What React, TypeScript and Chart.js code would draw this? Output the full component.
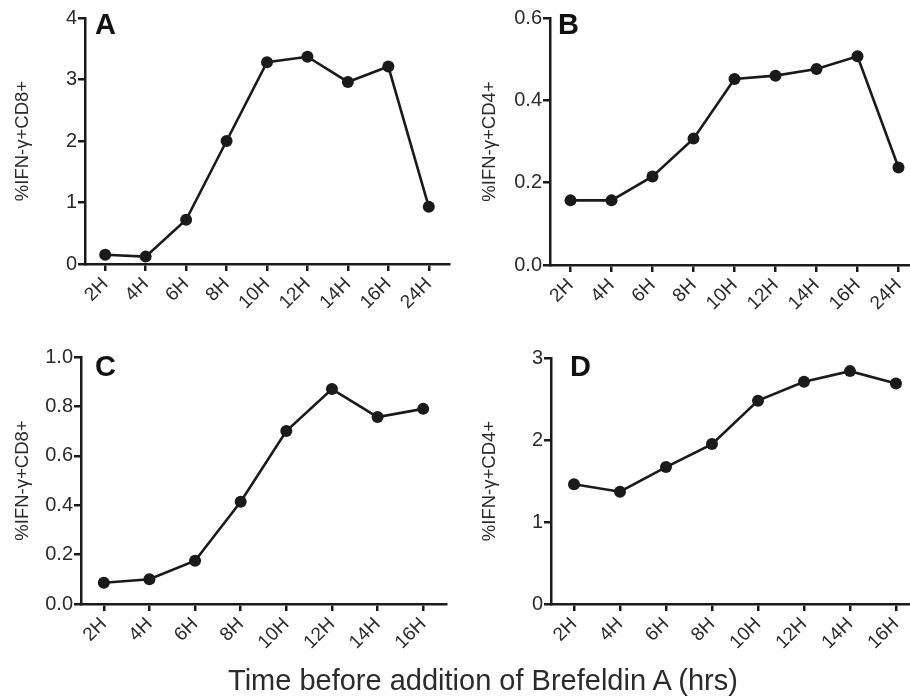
import React, { useEffect, useRef } from "react";
import { Chart, registerables } from "chart.js";

Chart.register(...registerables);

const labelsAB = ["2H", "4H", "6H", "8H", "10H", "12H", "14H", "16H", "24H"];
const labelsCD = ["2H", "4H", "6H", "8H", "10H", "12H", "14H", "16H"];
const valuesA = [0.15, 0.12, 0.72, 2.0, 3.28, 3.37, 2.96, 3.21, 0.93];
const valuesB = [0.157, 0.157, 0.215, 0.307, 0.452, 0.46, 0.476, 0.507, 0.237];
const valuesC = [0.086, 0.1, 0.175, 0.414, 0.7, 0.87, 0.757, 0.79];
const valuesD = [1.46, 1.37, 1.67, 1.95, 2.48, 2.71, 2.84, 2.69];
const yTitleCD8 = "%IFN-γ+CD8+";
const yTitleCD4 = "%IFN-γ+CD4+";
const xTitle = "Time before addition of Brefeldin A (hrs)";
const panelLetters = ["A", "B", "C", "D"];

const FONT = "'Liberation Sans', Arial, Helvetica, sans-serif";
const INK = "#1a1a1a";
const TEXT = "#2b2b2b";

type PanelProps = {
  labels: string[];
  values: number[];
  yMax: number;
  yStep: number;
  decimals: number;
  yTitle: string;
  left: number;
  top: number;
  width: number;
  height: number;
  padTop: number;
  padRight: number;
  yWidth: number;
  xHeight: number;
  titlePad: number;
};

function Panel(p: PanelProps) {
  const ref = useRef<HTMLCanvasElement | null>(null);
  useEffect(() => {
    if (!ref.current) return;
    const gridCfg = {
      display: true,
      drawOnChartArea: false,
      drawTicks: true,
      tickLength: 7,
      lineWidth: 2.5,
      color: INK,
      offset: false,
    };
    const borderCfg = { display: true, color: INK, width: 2.5 };
    const chart = new Chart(ref.current, {
      type: "line",
      data: {
        labels: p.labels,
        datasets: [
          {
            data: p.values,
            borderColor: INK,
            backgroundColor: INK,
            borderWidth: 2.6,
            pointRadius: 6,
            pointBackgroundColor: INK,
            pointBorderWidth: 0,
            tension: 0,
            clip: false as any,
          },
        ],
      },
      options: {
        animation: false,
        responsive: false,
        maintainAspectRatio: false,
        devicePixelRatio: 1,
        layout: { padding: { top: p.padTop, right: p.padRight, left: 0, bottom: 0 } },
        plugins: { legend: { display: false }, tooltip: { enabled: false } },
        scales: {
          x: {
            type: "category",
            offset: true,
            grid: gridCfg as any,
            border: borderCfg,
            ticks: {
              autoSkip: false,
              maxRotation: 45,
              minRotation: 45,
              padding: 2,
              color: TEXT,
              font: { family: FONT, size: 19 },
            },
            afterFit: (s: any) => {
              s.height = p.xHeight;
            },
          },
          y: {
            type: "linear",
            min: 0,
            max: p.yMax,
            grid: gridCfg as any,
            border: borderCfg,
            ticks: {
              stepSize: p.yStep,
              padding: 1,
              color: TEXT,
              font: { family: FONT, size: 20 },
              callback: (v: any) => Number(v).toFixed(p.decimals),
            },
            title: {
              display: true,
              text: p.yTitle,
              color: TEXT,
              font: { family: FONT, size: 18.5 },
              padding: { top: p.titlePad, bottom: 0 },
            },
            afterFit: (s: any) => {
              s.width = p.yWidth;
            },
          },
        },
      },
    });
    return () => chart.destroy();
  }, []);
  return (
    <canvas
      ref={ref}
      width={p.width}
      height={p.height}
      style={{ position: "absolute", left: p.left, top: p.top, width: p.width, height: p.height }}
    />
  );
}

const letterStyle = (left: number, baseline: number): React.CSSProperties => ({
  position: "absolute",
  left,
  top: baseline - 0.8465 * 29,
  fontFamily: FONT,
  fontWeight: "bold",
  fontSize: 29,
  lineHeight: "29px",
  color: "#111",
});

export default function App() {
  return (
    <div
      style={{
        position: "absolute",
        left: 0,
        top: 0,
        width: 910,
        height: 700,
        overflow: "hidden",
        background: "#fff",
      }}
    >
      <Panel labels={labelsAB} values={valuesA} yMax={4} yStep={1} decimals={0} yTitle={yTitleCD8}
        left={0} top={0} width={455} height={330} padTop={18} padRight={3} yWidth={85} xHeight={66} titlePad={12} />
      <Panel labels={labelsAB} values={valuesB} yMax={0.6} yStep={0.2} decimals={1} yTitle={yTitleCD4}
        left={465} top={0} width={460} height={330} padTop={18} padRight={6} yWidth={85} xHeight={65} titlePad={14} />
      <Panel labels={labelsCD} values={valuesC} yMax={1.0} yStep={0.2} decimals={1} yTitle={yTitleCD8}
        left={0} top={330} width={452} height={340} padTop={27} padRight={2} yWidth={81} xHeight={66} titlePad={12} />
      <Panel labels={labelsCD} values={valuesD} yMax={3} yStep={1} decimals={0} yTitle={yTitleCD4}
        left={465} top={330} width={460} height={340} padTop={28} padRight={4} yWidth={86} xHeight={66} titlePad={14} />
      <div style={letterStyle(95, 35)}>{panelLetters[0]}</div>
      <div style={letterStyle(558, 35)}>{panelLetters[1]}</div>
      <div style={letterStyle(95, 377)}>{panelLetters[2]}</div>
      <div style={letterStyle(570, 377)}>{panelLetters[3]}</div>
      <div
        style={{
          position: "absolute",
          left: 228,
          top: 691 - 0.8465 * 29,
          fontFamily: FONT,
          fontSize: 29,
          lineHeight: "29px",
          color: TEXT,
          whiteSpace: "nowrap",
        }}
      >
        {xTitle}
      </div>
    </div>
  );
}
